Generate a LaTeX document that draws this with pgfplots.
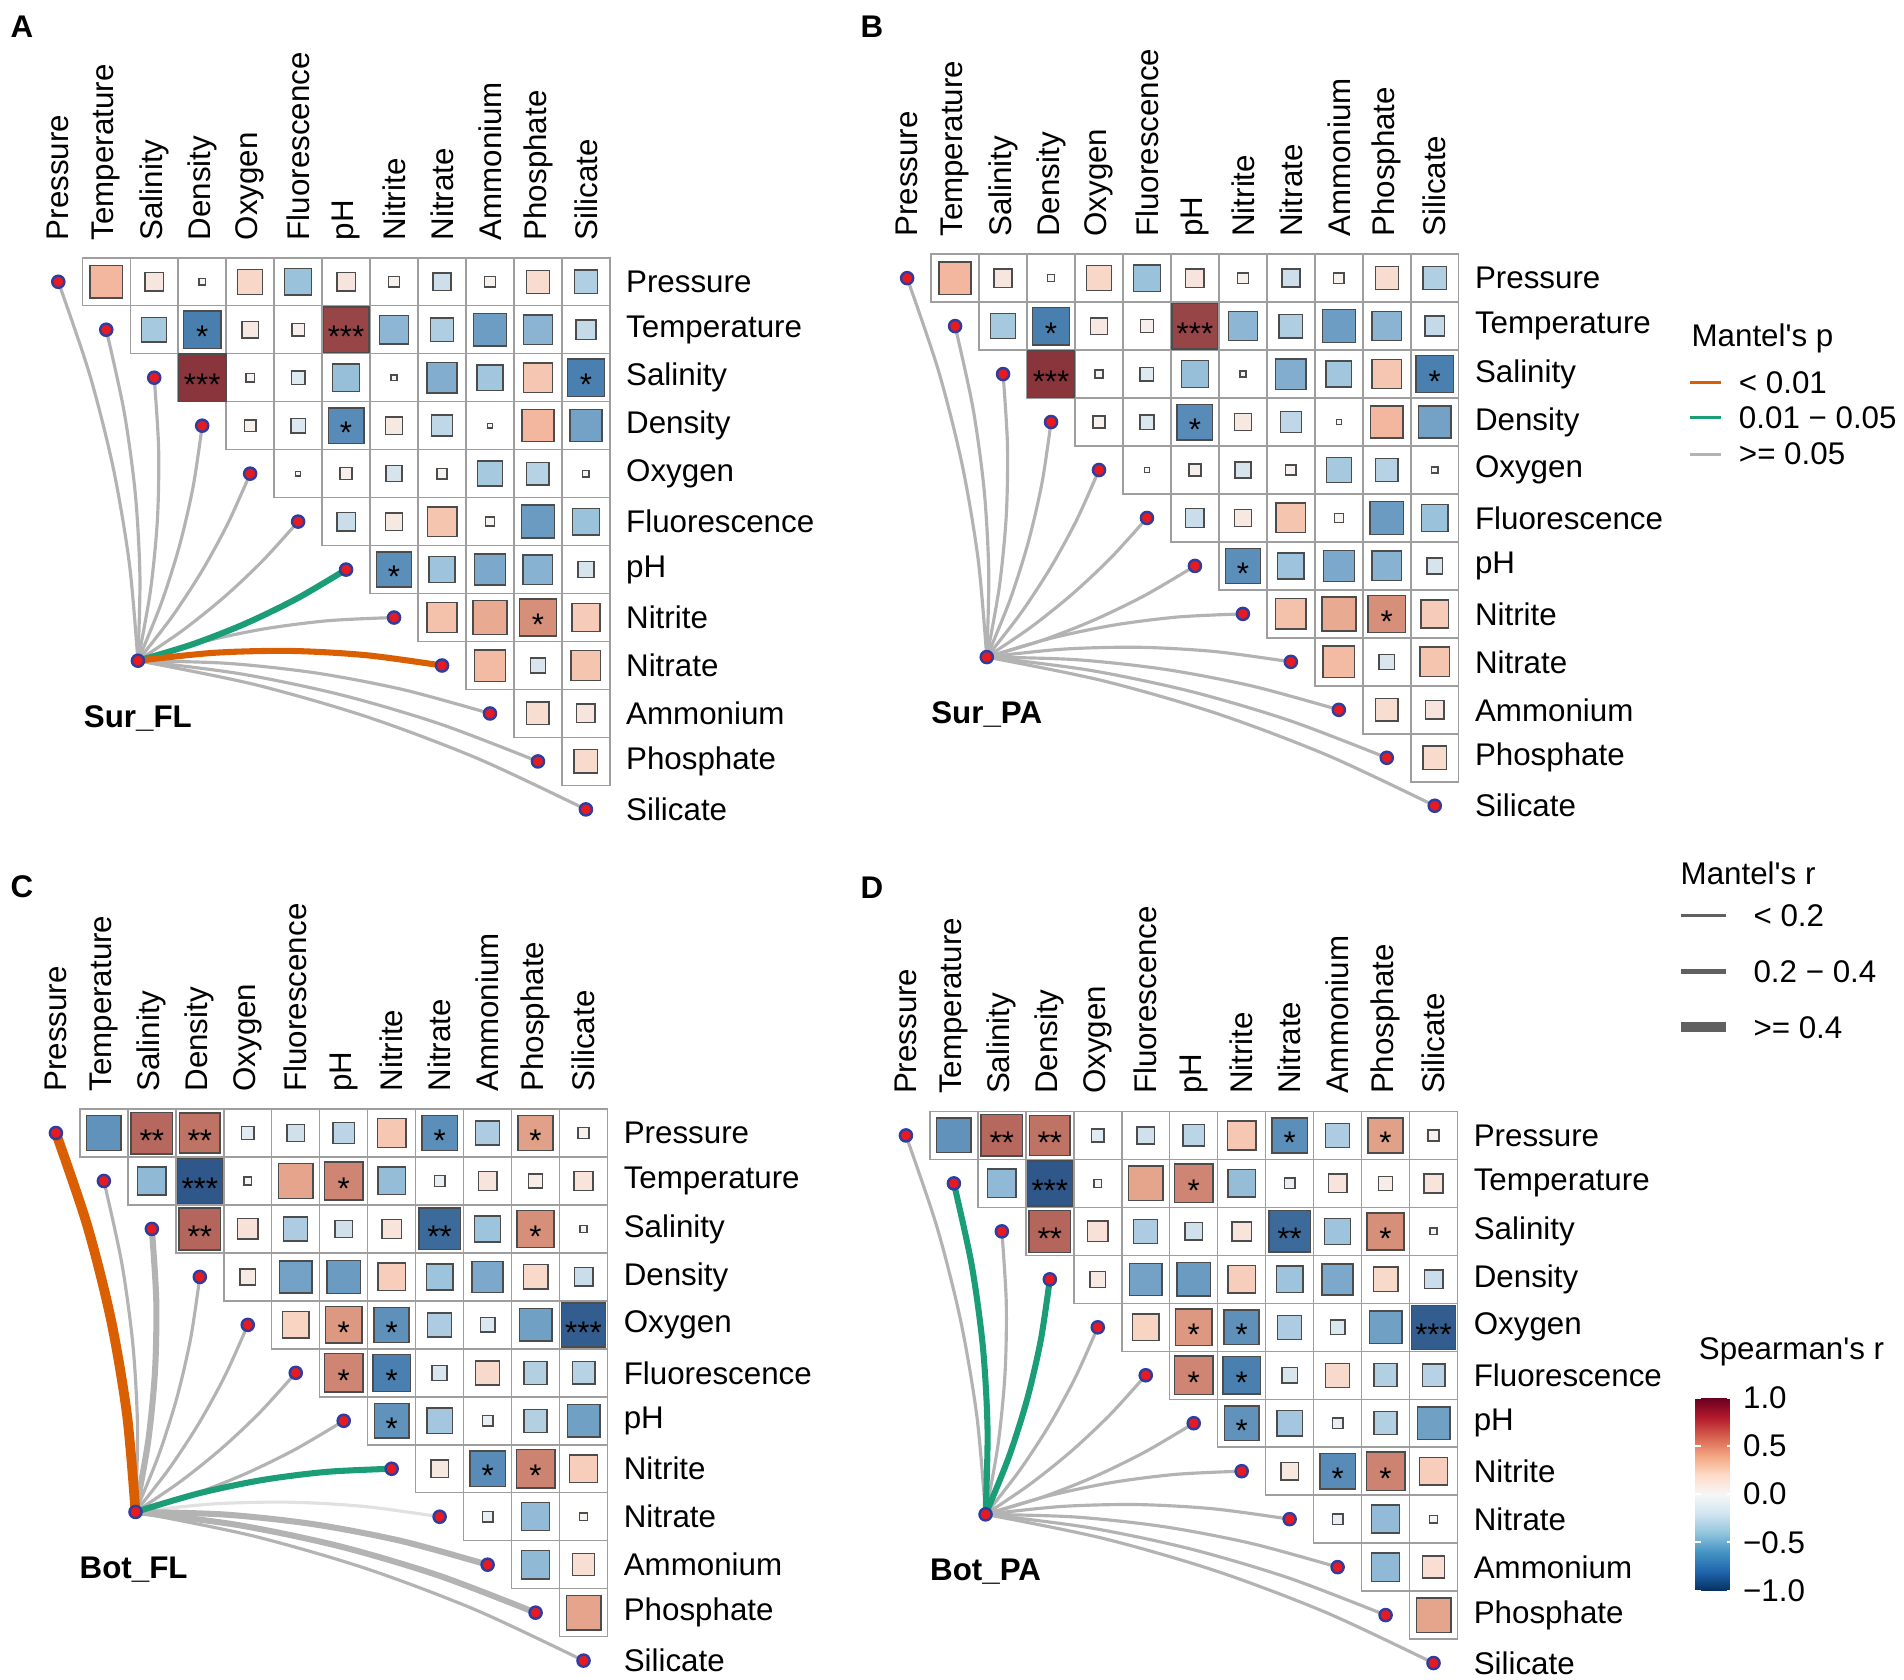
\documentclass[border=0pt]{standalone}
\usepackage{fontspec}
\setmainfont{Liberation Sans}
\usepackage{pgfplots}
\usepackage{pgfplotstable}
\pgfplotsset{compat=1.18}

\definecolor{porange}{HTML}{D95F02}
\definecolor{pgreen}{HTML}{1B9E77}
\definecolor{lgrey}{HTML}{B3B3B3}
\definecolor{keygrey}{HTML}{606060}
\definecolor{dotred}{HTML}{E8191F}
\definecolor{dotblue}{HTML}{2F3E9E}

\newcommand{\lab}{\fontsize{12.9}{15}\selectfont}

\pgfplotsset{
  colormap={cellmap}{
    rgb255(0cm)=(36,70,120); rgb255(8cm)=(74,128,176); rgb255(14cm)=(158,196,221);
    rgb255(20cm)=(247,247,247); rgb255(26cm)=(248,212,195); rgb255(29cm)=(242,183,158);
    rgb255(32cm)=(214,144,122); rgb255(35cm)=(183,104,94); rgb255(40cm)=(132,45,55)
  },
  colormap={rdbu}{
    rgb255=(5,48,97) rgb255=(33,102,172) rgb255=(67,147,195) rgb255=(146,197,222)
    rgb255=(209,229,240) rgb255=(247,247,247) rgb255=(253,219,199) rgb255=(244,165,130)
    rgb255=(214,96,77) rgb255=(178,24,43) rgb255=(103,0,31)
  },
  panel/.style={
    anchor=north west,
    x=19.75pt, y=19.75pt,
    xmin=0.5, xmax=12.5, ymin=-12.5, ymax=-0.5,
    clip=false,
    axis line style={draw=none},
    major tick length=0pt,
    tick style={draw=none},
    xtick={1,...,12}, ytick={-12,...,-1},
    xticklabels={Pressure,Temperature,Salinity,Density,Oxygen,Fluorescence,pH,Nitrite,Nitrate,Ammonium,Phosphate,Silicate},
    yticklabels={Silicate,Phosphate,Ammonium,Nitrate,Nitrite,pH,Fluorescence,Oxygen,Density,Salinity,Temperature,Pressure},
    xticklabel pos=upper, yticklabel pos=upper,
    xticklabel style={rotate=90, anchor=west, inner xsep=7pt, inner ysep=0pt, font=\lab},
    yticklabel style={anchor=west, inner xsep=6.5pt, inner ysep=0pt, font=\lab},
    colormap name=cellmap,
    point meta min=-1, point meta max=1,
  },
  lk0/.style={draw=lgrey, line width=1.3pt},
  lkgm/.style={draw=lgrey, line width=2.5pt},
  lkgf/.style={draw=lgrey!40, line width=1.3pt},
  lkgr/.style={draw=pgreen, line width=2.5pt},
  lkor/.style={draw=porange, line width=2.5pt},
  lkot/.style={draw=porange, line width=4pt},
}

% Spearman correlations, surface layer (panels A, B)
\pgfplotstableread{
col row r
2 1 0.45
3 1 0.145
4 1 0.02
5 1 0.27
6 1 -0.31
7 1 0.15
8 1 0.05
9 1 -0.14
10 1 0.05
11 1 0.23
12 1 -0.235
3 2 -0.27
4 2 -0.61
5 2 0.12
6 2 0.07
7 2 0.9
8 2 -0.36
9 2 -0.24
10 2 -0.47
11 2 -0.37
12 2 -0.17
4 3 0.97
5 3 0.03
6 3 -0.08
7 3 -0.32
8 3 0.015
9 3 -0.4
10 3 -0.29
11 3 0.37
12 3 -0.6
5 4 0.06
6 4 -0.09
7 4 -0.55
8 4 0.13
9 4 -0.19
10 4 0.01
11 4 0.45
12 4 -0.45
6 5 0.01
7 5 0.065
8 5 -0.11
9 5 0.047
10 5 -0.27
11 5 -0.22
12 5 -0.018
7 6 -0.15
8 6 0.13
9 6 0.38
10 6 0.035
11 6 -0.48
12 6 -0.31
8 7 -0.54
9 7 -0.3
10 7 -0.42
11 7 -0.38
12 7 -0.11
9 8 0.4
10 8 0.5
11 8 0.6
12 8 0.34
10 9 0.43
11 9 -0.1
12 9 0.38
11 10 0.22
12 10 0.15
12 11 0.24
}\surf

% Spearman correlations, bottom layer (panels C, D)
\pgfplotstableread{
col row r
2 1 -0.52
3 1 0.75
4 1 0.71
5 1 -0.07
6 1 -0.13
7 1 -0.2
8 1 0.36
9 1 -0.54
10 1 -0.25
11 1 0.54
12 1 0.05
3 2 -0.35
4 2 -0.88
5 2 0.027
6 2 0.52
7 2 0.64
8 2 -0.33
9 2 -0.05
10 2 0.15
11 2 0.085
12 2 0.16
4 3 0.76
5 3 0.18
6 3 -0.25
7 3 -0.13
8 3 0.16
9 3 -0.75
10 3 -0.3
11 3 0.6
12 3 0.02
5 4 0.11
6 4 -0.45
7 4 -0.48
8 4 0.33
9 4 -0.3
10 4 -0.42
11 4 0.26
12 4 -0.15
6 5 0.3
7 5 0.57
8 5 -0.53
9 5 -0.25
10 5 -0.09
11 5 -0.46
12 5 -0.84
7 6 0.64
8 6 -0.6
9 6 -0.1
10 6 0.25
11 6 -0.23
12 6 -0.22
8 7 -0.52
9 7 -0.28
10 7 -0.05
11 7 -0.23
12 7 -0.46
9 8 0.13
10 8 -0.55
11 8 0.65
12 8 0.33
10 9 -0.05
11 9 -0.34
12 9 0.026
11 10 -0.35
12 10 0.21
12 11 0.52
}\bott

% link paths from the source node to each variable
\pgfplotstableread{
x y
2.66 -8.9
2.482 -6.876
2.146 -4.884
1.652 -2.926
1 -1
}\lka
\pgfplotstableread{
x y
2.66 -8.9
2.702 -7.156
2.606 -5.424
2.372 -3.706
2 -2
}\lkb
\pgfplotstableread{
x y
2.66 -8.9
2.922 -7.436
3.066 -5.964
3.092 -4.486
3 -3
}\lkc
\pgfplotstableread{
x y
2.66 -8.9
3.142 -7.716
3.526 -6.504
3.812 -5.266
4 -4
}\lkd
\pgfplotstableread{
x y
2.66 -8.9
3.362 -7.996
3.986 -7.044
4.532 -6.046
5 -5
}\lke
\pgfplotstableread{
x y
2.66 -8.9
3.582 -8.276
4.446 -7.584
5.252 -6.826
6 -6
}\lkf
\pgfplotstableread{
x y
2.66 -8.9
3.802 -8.556
4.906 -8.124
5.972 -7.606
7 -7
}\lkg
\pgfplotstableread{
x y
2.66 -8.9
3.968 -8.515
5.294 -8.236
6.638 -8.065
8 -8
}\lkh
\pgfplotstableread{
x y
2.66 -8.9
4.248 -8.735
5.834 -8.696
7.418 -8.785
9 -9
}\lki
\pgfplotstableread{
x y
2.66 -8.9
4.528 -8.955
6.374 -9.156
8.198 -9.505
10 -10
}\lkj
\pgfplotstableread{
x y
2.66 -8.9
4.808 -9.175
6.914 -9.616
8.978 -10.225
11 -11
}\lkk
\pgfplotstableread{
x y
2.66 -8.9
5.088 -9.395
7.454 -10.076
9.758 -10.945
12 -12
}\lkl

\newcommand\cells[1]{%
  \addplot[color=black!38, only marks, mark=square, mark size=9.875pt,
    mark options={draw=black!38, line width=0.6pt}, forget plot]
    table[x=col, y expr=-\thisrow{row}] {#1};
  \addplot[scatter, only marks, mark=square*, point meta=\thisrow{r},
    scatter/use mapped color={draw=black!70, fill=mapped color},
    visualization depends on={sqrt(abs(\thisrow{r}))*9.875 \as \cellsz},
    scatter/@pre marker code/.append style={/tikz/mark size=\cellsz pt},
    mark options={line width=0.6pt}, forget plot]
    table[x=col, y expr=-\thisrow{row}] {#1};
}
\newcommand\link[2]{\addplot[smooth, no marks, forget plot, #1] table[x=x, y=y] {#2};}
\newcommand\envpts{%
  \addplot[only marks, mark=*, mark size=2.5pt,
    mark options={fill=dotred, draw=dotblue, line width=1pt}, forget plot]
    coordinates {(1,-1) (2,-2) (3,-3) (4,-4) (5,-5) (6,-6) (7,-7) (8,-8)
      (9,-9) (10,-10) (11,-11) (12,-12) (2.66,-8.9)};
}
\pgfplotsset{stars/.style={only marks, mark=*, mark size=0.01pt,
    mark options={draw=none, fill=none}, nodes near coords,
    point meta=explicit symbolic,
    every node near coord/.append style={font=\lab, anchor=base, yshift=-7.5pt,
      inner sep=0pt, text=black}, forget plot}}
\newcommand\starsS{\addplot[stars] coordinates {(4,-2) [*] (7,-2) [***]
  (4,-3) [***] (12,-3) [*] (7,-4) [*] (8,-7) [*] (11,-8) [*]};}
\newcommand\starsB{\addplot[stars] coordinates {(3,-1) [**] (4,-1) [**]
  (9,-1) [*] (11,-1) [*] (4,-2) [***] (7,-2) [*] (4,-3) [**] (9,-3) [**]
  (11,-3) [*] (7,-5) [*] (8,-5) [*] (12,-5) [***] (7,-6) [*] (8,-6) [*]
  (8,-7) [*] (10,-8) [*] (11,-8) [*]};}

\begin{document}
\begin{tikzpicture}
\path[use as bounding box] (0pt,0pt) rectangle (784pt,-691.5pt);

% overlay in pixel units: legends and panel letters
\begin{axis}[at={(0pt,0pt)}, anchor=north west, scale only axis,
  width=784pt, height=691.5pt,
  xmin=0, xmax=1568, ymin=-1383, ymax=0,
  clip=false, axis line style={draw=none}, xtick=\empty, ytick=\empty,
  colormap name=rdbu, point meta min=-1, point meta max=1,
  colorbar,
  colorbar style={
    at={(parent axis.north west)}, anchor=north west,
    xshift=689.5pt, yshift=-575.5pt,
    width=15.5pt, height=79.5pt,
    axis line style={draw=none},
    ytick={-1,-0.5,0,0.5,1},
    yticklabels={−1.0,−0.5,0.0,0.5,1.0},
    yticklabel style={font=\lab, anchor=west, inner sep=0pt, xshift=4pt},
    tick align=inside, major tick length=2.5pt,
    ytick style={draw=white, line width=0.8pt},
  }]
  \addplot[porange, line width=1.3pt, forget plot] coordinates {(1392,-315) (1417,-315)};
  \addplot[pgreen, line width=1.3pt, forget plot] coordinates {(1392,-344) (1417,-344)};
  \addplot[lgrey, line width=1.3pt, forget plot] coordinates {(1392,-374) (1417,-374)};
  \addplot[keygrey, line width=1.2pt, forget plot] coordinates {(1384,-754) (1421,-754)};
  \addplot[keygrey, line width=2.4pt, forget plot] coordinates {(1384,-800) (1421,-800)};
  \addplot[keygrey, line width=4pt, forget plot] coordinates {(1384,-846) (1421,-846)};
  \node[anchor=west, font=\lab] at (axis cs:1386,-279) {Mantel\textquotesingle s p};
  \node[anchor=west, font=\lab] at (axis cs:1425,-315) {< 0.01};
  \node[anchor=west, font=\lab] at (axis cs:1425,-344) {0.01 − 0.05};
  \node[anchor=west, font=\lab] at (axis cs:1425,-374) {>= 0.05};
  \node[anchor=west, font=\lab] at (axis cs:1377,-719) {Mantel\textquotesingle s r};
  \node[anchor=west, font=\lab] at (axis cs:1437,-754) {< 0.2};
  \node[anchor=west, font=\lab] at (axis cs:1437,-800) {0.2 − 0.4};
  \node[anchor=west, font=\lab] at (axis cs:1437,-846) {>= 0.4};
  \node[anchor=west, font=\lab] at (axis cs:1392,-1113) {Spearman\textquotesingle s r};
  \node[font=\bfseries\lab] at (axis cs:18,-22) {A};
  \node[font=\bfseries\lab] at (axis cs:718,-22) {B};
  \node[font=\bfseries\lab] at (axis cs:18,-730) {C};
  \node[font=\bfseries\lab] at (axis cs:718,-731) {D};
\end{axis}

% A: Sur_FL
\begin{axis}[panel, at={(14.13pt,-106.15pt)}]
  \cells{\surf}
  \link{lk0}{\lka}\link{lk0}{\lkb}\link{lk0}{\lkc}\link{lk0}{\lkd}
  \link{lk0}{\lke}\link{lk0}{\lkf}\link{lk0}{\lkh}\link{lk0}{\lkj}
  \link{lk0}{\lkk}\link{lk0}{\lkl}
  \link{lkgr}{\lkg}\link{lkor}{\lki}
  \envpts
  \starsS
  \node[font=\bfseries\lab] at (axis cs:2.66,-10.1) {Sur\_FL};
\end{axis}

% B: Sur_PA
\begin{axis}[panel, at={(363.65pt,-104.65pt)}]
  \cells{\surf}
  \link{lk0}{\lka}\link{lk0}{\lkb}\link{lk0}{\lkc}\link{lk0}{\lkd}
  \link{lk0}{\lke}\link{lk0}{\lkf}\link{lk0}{\lkg}\link{lk0}{\lkh}
  \link{lk0}{\lki}\link{lk0}{\lkj}\link{lk0}{\lkk}\link{lk0}{\lkl}
  \envpts
  \starsS
  \node[font=\bfseries\lab] at (axis cs:2.66,-10.1) {Sur\_PA};
\end{axis}

% C: Bot_FL
\begin{axis}[panel, at={(13.15pt,-456.65pt)}]
  \cells{\bott}
  \link{lk0}{\lkb}\link{lk0}{\lkd}\link{lk0}{\lke}\link{lk0}{\lkf}
  \link{lk0}{\lkg}\link{lk0}{\lkl}\link{lkgf}{\lki}
  \link{lkgm}{\lkc}\link{lkgm}{\lkj}\link{lkgm}{\lkk}
  \link{lkgr}{\lkh}\link{lkot}{\lka}
  \envpts
  \starsB
  \node[font=\bfseries\lab] at (axis cs:2.62,-10.1) {Bot\_FL};
\end{axis}

% D: Bot_PA
\begin{axis}[panel, at={(363.15pt,-457.65pt)}]
  \cells{\bott}
  \link{lk0}{\lka}\link{lk0}{\lkc}\link{lk0}{\lke}\link{lk0}{\lkf}
  \link{lk0}{\lkg}\link{lk0}{\lkh}\link{lk0}{\lki}\link{lk0}{\lkj}
  \link{lk0}{\lkk}\link{lk0}{\lkl}
  \link{lkgr}{\lkb}\link{lkgr}{\lkd}
  \envpts
  \starsB
  \node[font=\bfseries\lab] at (axis cs:2.66,-10.1) {Bot\_PA};
\end{axis}
\end{tikzpicture}
\end{document}
